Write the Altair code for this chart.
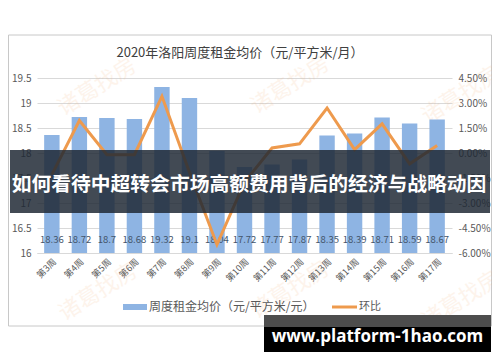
import altair as alt
import pandas as pd

weeks = ["第3周", "第4周", "第5周", "第6周", "第7周", "第8周", "第9周", "第10周",
         "第11周", "第12周", "第13周", "第14周", "第15周", "第16周", "第17周"]
rent = [18.36, 18.72, 18.70, 18.68, 19.32, 19.10, 18.04, 17.72,
        17.77, 17.87, 18.35, 18.39, 18.71, 18.59, 18.67]
pct = [-1.3, 1.95, -0.1, -0.1, 3.4, -1.15, -5.5, -1.75,
       0.3, 0.55, 2.7, 0.2, 1.75, -0.65, 0.45]
rent_labels = ["18.36", "18.72", "18.7", "18.68", "19.32", "19.1", "18.04", "17.72",
               "17.77", "17.87", "18.35", "18.39", "18.71", "18.59", "18.67"]
left_ticks = [16, 16.5, 17, 17.5, 18, 18.5, 19, 19.5]
right_ticks = [-6, -4.5, -3, -1.5, 0, 1.5, 3, 4.5]

title_text = "2020年洛阳周度租金均价（元/平方米/月）"
legend_bar = "周度租金均价（元/平方米/元）"
legend_line = "环比"
banner_text = "如何看待中超转会市场高额费用背后的经济与战略动因"
site_text = "www.platform-1hao.com"
watermark_text = "诸葛找房"

df = pd.DataFrame({"week": weeks, "rent": rent, "pct": pct, "label": rent_labels})

FONT = "Noto Sans CJK SC"
BAR = "#8EB4E3"
ORANGE = "#EE9A4D"
W, H = 415, 175

xscale = alt.Scale(type="band", paddingInner=0.44, paddingOuter=0.26)
xenc = alt.X("week:N", sort=weeks, scale=xscale,
             axis=alt.Axis(title=None, labelAngle=-45, labelAlign="right", labelBaseline="top",
                           labelPadding=4, ticks=False, domainColor="#D9D9D9",
                           labelFontSize=9, labelColor="#595959", labelFont=FONT))

base = alt.Chart(df)

bars = base.mark_bar(color=BAR).encode(
    x=xenc,
    y=alt.Y("rent:Q", scale=alt.Scale(domain=[16, 19.5], nice=False, zero=False, clamp=True),
            axis=alt.Axis(title=None, values=left_ticks, domain=False, ticks=False,
                          gridColor="#D9D9D9", labelPadding=6, labelFontSize=10,
                          labelColor="#595959", labelFont=FONT,
                          labelExpr="datum.value + ''")),
    y2=alt.value(H),
)

bar_text = base.mark_text(fontSize=9.5, color="#44546A", font=FONT, baseline="middle").encode(
    x=alt.X("week:N", sort=weeks, scale=xscale),
    y=alt.value(162),
    text="label:N",
)

line = base.mark_line(color=ORANGE, strokeWidth=3).encode(
    x=alt.X("week:N", sort=weeks, scale=xscale),
    y=alt.Y("pct:Q", scale=alt.Scale(domain=[-6, 4.5], nice=False, zero=False),
            axis=alt.Axis(title=None, orient="right", values=right_ticks, domain=False, ticks=False,
                          grid=False, labelPadding=6, labelFontSize=10, labelColor="#595959",
                          labelFont=FONT,
                          labelExpr="replace(format(datum.value, '.2f'), '\u2212', '-') + '%'")),
)

one = alt.Data(values=[{}])

border = alt.Chart(one).mark_rect(fillOpacity=0, stroke="#C8C8C8", strokeWidth=1).encode(
    x=alt.value(-28.5), x2=alt.value(454.5), y=alt.value(-43), y2=alt.value(248))

wm_layers = []
for wx, wy in [(60, 9), (253, 7), (424, 17), (61, 214), (253, 212), (424, 222)]:
    wm_layers.append(
        alt.Chart(one).mark_text(fontSize=22, color="#F3B27A", opacity=0.14, font=FONT,
                                 angle=328, align="center", baseline="middle",
                                 text=watermark_text).encode(x=alt.value(wx), y=alt.value(wy))
    )

title = alt.Chart(one).mark_text(fontSize=13, color="#404040", font=FONT, align="center",
                                  baseline="middle", text=title_text).encode(
    x=alt.value(203), y=alt.value(-25))

leg_rect = alt.Chart(one).mark_rect(color=BAR).encode(
    x=alt.value(86), x2=alt.value(110), y=alt.value(226), y2=alt.value(232))
leg_t1 = alt.Chart(one).mark_text(fontSize=12, color="#595959", font=FONT, align="left",
                                   baseline="middle", text=legend_bar).encode(
    x=alt.value(112), y=alt.value(229))
leg_line = alt.Chart(one).mark_rule(color=ORANGE, strokeWidth=3).encode(
    x=alt.value(295), x2=alt.value(320), y=alt.value(229))
leg_t2 = alt.Chart(one).mark_text(fontSize=11, color="#595959", font=FONT, align="left",
                                   baseline="middle", text=legend_line).encode(
    x=alt.value(322), y=alt.value(229))

banner = alt.Chart(one).mark_rect(color="#1E2733", opacity=0.84).encode(
    x=alt.value(-27), x2=alt.value(453), y=alt.value(72), y2=alt.value(135))
banner_t = alt.Chart(one).mark_text(fontSize=19.8, color="white", font=FONT, fontWeight="bold",
                                     align="center", baseline="middle", text=banner_text).encode(
    x=alt.value(212), y=alt.value(107))

site_top = alt.Chart(one).mark_rect(color="#4D4D4D").encode(
    x=alt.value(227), x2=alt.value(454), y=alt.value(237), y2=alt.value(249))
site_box = alt.Chart(one).mark_rect(color="#000000").encode(
    x=alt.value(227), x2=alt.value(454), y=alt.value(249), y2=alt.value(275))
site_t = alt.Chart(one).mark_text(fontSize=17, color="white", font="Open Sans", fontWeight="bold",
                                   align="center", baseline="middle", text=site_text).encode(
    x=alt.value(340.5), y=alt.value(259))

chart = alt.layer(
    border, *wm_layers, bars, bar_text, line, title, leg_rect, leg_t1, leg_line, leg_t2,
    banner, banner_t, site_top, site_box, site_t
).resolve_scale(y="independent").properties(
    width=W, height=H,
    autosize=alt.AutoSizeParams(type="none"),
    padding={"left": 29, "top": 70, "right": 40, "bottom": 99},
    background="white",
).configure_view(stroke=None)

chart.save("out.html", embed_options={"renderer": "svg", "actions": False})
